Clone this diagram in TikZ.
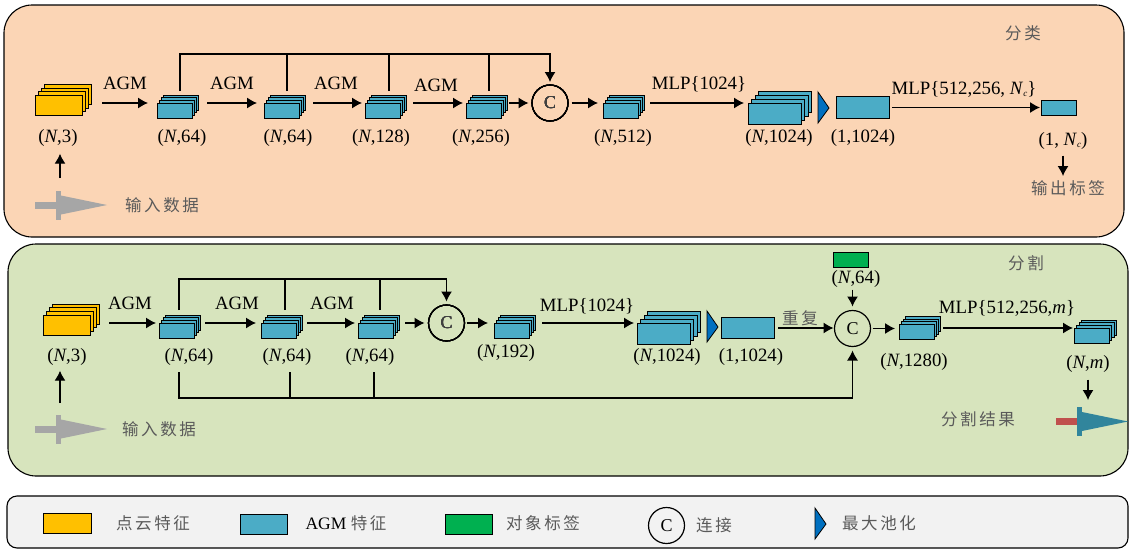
\documentclass[tikz,border=0pt]{standalone}
\usepackage{fontspec}
\usetikzlibrary{arrows.meta}
\setmainfont{Liberation Serif}
\newfontfamily\cjk[LetterSpace=16]{Noto Sans CJK SC}

\definecolor{peach}{HTML}{FBD5B5}
\definecolor{sage}{HTML}{D7E4BD}
\definecolor{pale}{HTML}{F2F2F2}
\definecolor{agmblue}{HTML}{4BACC6}
\definecolor{ptyellow}{HTML}{FFC000}
\definecolor{objgreen}{HTML}{00B050}
\definecolor{poolblue}{HTML}{0070C0}
\definecolor{softgray}{HTML}{A6A6A6}
\definecolor{teal}{HTML}{31859C}
\definecolor{brick}{HTML}{C0504D}
\definecolor{cjkgray}{HTML}{5A5A5A}

\tikzset{
	box/.style={draw=black, line width=1pt, inner sep=0pt, outer sep=0pt, anchor=north west},
	smallbox/.style={box, fill=agmblue, minimum width=35pt, minimum height=15pt},
	bigbox/.style={box, fill=agmblue, minimum width=53pt, minimum height=21pt},
	ptbox/.style={box, fill=ptyellow, minimum width=47pt, minimum height=20pt},
	panel/.style={draw=black, line width=1.1pt, inner sep=0pt, outer sep=0pt, anchor=north west},
	lbl/.style={inner sep=0pt, font=\fontsize{18.8}{20}\selectfont},
	zh/.style={inner sep=0pt, text=cjkgray, font=\cjk\fontsize{16.5}{18}\selectfont},
	joint/.style={circle, draw=black, line width=1.2pt, minimum size=36pt, inner sep=0pt, outer sep=0pt, font=\fontsize{18}{20}\selectfont, text=black!75},
	link/.style={line width=1.2pt},
	flow/.style={link, -{Latex[length=10pt,width=11pt]}},
	pool/.style={draw=black, line width=0.8pt, fill=poolblue}
}

% name, x, y, style, dx, dy
\newcommand{\layerstack}[6]{
	\foreach \i in {3,2,1}
		\node[#4] (#1-\i) at ({#2+\i*#5},{#3-\i*#6}) {};
	\node[#4] (#1) at (#2,#3) {};
}
% x, y
\newcommand{\maxpool}[2]{
	\draw[pool] (#1,#2) -- (#1+11,#2+16) -- (#1,#2+31) -- cycle;
}
% tail x, bar x, tip x, y, tail colour, head colour
\newcommand{\fatarrow}[6]{
	\fill[#5] (#1,#4-3.5) rectangle (#2,#4+3.5);
	\fill[#6] (#2,#4-14.5) rectangle (#2+5,#4+14.5);
	\fill[#6] (#2+5,#4-9.5) -- (#3,#4) -- (#2+5,#4+9.5) -- cycle;
}
\newcommand{\subc}{\textit{N}\raisebox{-2pt}{\fontsize{9}{10}\selectfont\textit{c}}}

\begin{document}
\begin{tikzpicture}[x=1pt,y=-1pt]
\useasboundingbox (0,0) rectangle (1135,549);

% Paneles
	\node[panel, fill=peach, rounded corners=28pt, minimum width=1120pt, minimum height=232pt] (panelA) at (4,5) {};
	\node[panel, fill=sage, rounded corners=28pt, minimum width=1120pt, minimum height=232pt] (panelB) at (8,244) {};
	\node[panel, fill=pale, rounded corners=10pt, minimum width=1121pt, minimum height=52pt] (panelC) at (7,496) {};

% Clasificacion
	\node[zh] (titleA) at (1023,33) {分类};
	\layerstack{yA}{35}{95}{ptbox}{3.3}{3.4}
	\foreach \n/\x in {a1/157, a2/264, a3/365, a4/466, a5/603}
		\layerstack{\n}{\x}{103}{smallbox}{2.3}{2.6}
	\layerstack{bigA}{748}{103}{bigbox}{3.5}{3.7}
	\node[joint] (cA) at (550,103) {C};
	\maxpool{818}{92}
	\node[box, fill=agmblue, minimum width=53pt, minimum height=22pt] (rA) at (836,96.5) {};
	\node[box, fill=agmblue, minimum width=35pt, minimum height=15pt] (oA) at (1041,100) {};

	\foreach \n/\x/\y/\t in {lyA/58/138/{(\textit{N},3)}, la1/182/138/{(\textit{N},64)}, la2/288/138/{(\textit{N},64)},
		la3/381/138/{(\textit{N},128)}, la4/481/138/{(\textit{N},256)}, la5/623/138/{(\textit{N},512)},
		lbA/779/138/{(\textit{N},1024)}, lrA/863/138/{(1,1024)},
		ag1/125/83/AGM, ag2/232/83/AGM, ag3/336/83/AGM, ag4/436/85/AGM,
		mA1/699/84/{MLP\{1024\}}, mA2/964/89/{MLP\{512,256,~\subc\}}}
		\node[lbl] (\n) at (\x,\y) {\t};
	\node[lbl] (loA) at (1063,141) {(1,~\subc)};

	\draw[flow, shorten <=20pt, shorten >=9pt] (yA.east |- a1.north west) -- (a1.north west);
	\foreach \a/\b/\p/\q in {a1/a2/15/7, a2/a3/14/3, a3/a4/13/3}
		\draw[flow, shorten <=\p pt, shorten >=\q pt] (\a.north east) -- (\b.north west);
	\draw[flow, shorten <=8pt, shorten >=3.5pt] (a4.north east) -- (cA.west);
	\draw[flow, shorten <=3.5pt, shorten >=5pt] (cA.east) -- (a5.north west);
	\draw[flow, yshift=-2pt, shorten <=12pt, shorten >=4pt] (a5.north east) -- (bigA.north west);
	\draw[flow, shorten <=3pt, shorten >=1pt] (rA.east) -- (oA.west);

	\foreach \n/\x in {dA1/180, dA2/287, dA3/389, dA4/489}
		\coordinate (\n) at (\x,91);
	\coordinate (topA) at (180,54);
	\draw[flow, shorten >=3pt] (dA1) -- (topA) -- (topA -| cA.north) -- (cA.north);
	\foreach \n in {dA2, dA3, dA4}
		\draw[link] (\n) -- (\n |- topA);

	\coordinate (inA) at (60,178);
	\draw[flow, shorten >=7pt] (inA) -- (inA |- lyA.south);
	\fatarrow{35}{56}{107}{205}{softgray}{softgray}
	\node[zh] (tinA) at (162,205) {输入数据};
	\draw[flow, shorten <=6pt, shorten >=0pt] (loA.south -| 1063,0) -- (1063,176);
	\node[zh] (toutA) at (1068,188) {输出标签};

% Segmentacion
	\node[zh] (titleB) at (1026,263) {分割};
	\layerstack{yB}{43}{315}{ptbox}{3.3}{3.6}
	\foreach \n/\x in {b1/159, b2/261, b3/358, b4/494}
		\layerstack{\n}{\x}{323}{smallbox}{2.3}{2.6}
	\layerstack{bigB}{637}{323}{bigbox}{3.6}{4}
	\node[joint] (cB) at (446.5,323) {C};
	\maxpool{707}{311}
	\node[box, fill=agmblue, minimum width=53pt, minimum height=21pt] (rB) at (721,317.5) {};
	\node[joint, text=black] (cC) at (852.5,328.5) {C};
	\node[box, fill=objgreen, minimum width=35pt, minimum height=15pt] (gB) at (833,252) {};
	\layerstack{c1}{899}{324}{smallbox}{2.3}{2.4}
	\layerstack{c2}{1074}{328}{smallbox}{2.6}{2.6}

	\foreach \n/\x/\y/\t in {lyB/67/357/{(\textit{N},3)}, lb1/189/357/{(\textit{N},64)}, lb2/287/357/{(\textit{N},64)},
		lb3/370/357/{(\textit{N},64)}, lb4/506/353/{(\textit{N},192)}, lbB/667/357/{(\textit{N},1024)},
		lrB/751/357/{(1,1024)}, lgB/856/279/{(\textit{N},64)}, lc1/914/362/{(\textit{N},1280)}, lc2/1088/364/{(\textit{N},\textit{m})},
		ah1/130/303/AGM, ah2/237/303/AGM, ah3/332/303/AGM,
		mB1/587/306/{MLP\{1024\}}, mB2/1007/308/{MLP\{512,256,\textit{m}\}}}
		\node[lbl] (\n) at (\x,\y) {\t};
	\node[zh] (trep) at (800,318) {重复};

	\draw[flow, shorten <=19pt, shorten >=3pt] (yB.east |- b1.north west) -- (b1.north west);
	\foreach \a/\b/\p/\q in {b1/b2/11/5, b2/b3/11/3}
		\draw[flow, shorten <=\p pt, shorten >=\q pt] (\a.north east) -- (\b.north west);
	\draw[flow, shorten <=12pt, shorten >=4pt] (b3.north east) -- (cB.west);
	\draw[flow, shorten <=2pt, shorten >=6pt] (cB.east) -- (b4.north west);
	\draw[flow, yshift=-4pt, shorten <=13pt, shorten >=3pt] (b4.north east) -- (bigB.north west);
	\draw[flow, shorten <=4pt, shorten >=1pt] (rB.east) -- (rB.east -| cC.west);
	\draw[flow, shorten <=2pt, shorten >=4pt] (cC.east) -- (cC.east -| c1.west);
	\draw[flow, shorten <=9pt, shorten >=1pt] (c1.east |- c2.north west) -- (c2.north west);
	\draw[flow, shorten <=2pt, shorten >=4pt] (cC.north |- lgB.south) -- (cC.north);

	\foreach \n/\x in {dB1/179, dB2/285, dB3/380}
		\coordinate (\n) at (\x,310);
	\coordinate (topB) at (179,279);
	\draw[flow, shorten >=3.5pt] (dB1) -- (topB) -- (topB -| cB.north) -- (cB.north);
	\foreach \n in {dB2, dB3}
		\draw[link] (\n) -- (\n |- topB);

	\foreach \n/\x in {eB1/179, eB2/290, eB3/374}
		\coordinate (\n) at (\x,372);
	\coordinate (botB) at (179,398);
	\draw[flow, shorten >=4pt] (eB1) -- (botB) -- (botB -| cC.south) -- (cC.south);
	\foreach \n in {eB2, eB3}
		\draw[link] (\n) -- (\n |- botB);

	\coordinate (inB) at (60,403);
	\draw[flow, shorten >=5pt] (inB) -- (inB |- lyB.south);
	\fatarrow{35}{56}{107}{429}{softgray}{softgray}
	\node[zh] (tinB) at (159,429) {输入数据};
	\draw[flow, shorten <=7pt] (lc2.south) -- (1088,400);
	\fatarrow{1056}{1077}{1128}{421.5}{brick}{teal}
	\node[zh] (toutB) at (978,419) {分割结果};

% Leyenda
	\node[box, fill=ptyellow, minimum width=48pt, minimum height=20pt] (kpt) at (43,513) {};
	\node[box, fill=agmblue, minimum width=47pt, minimum height=20pt] (kagm) at (240,514) {};
	\node[box, fill=objgreen, minimum width=47pt, minimum height=20pt] (kobj) at (445,514) {};
	\node[joint, text=black] (kc) at (666.5,525.5) {C};
	\maxpool{815}{508}
	\node[zh] (tpt) at (153,523) {点云特征};
	\node[lbl, text=black] (tagm) at (346,523) {\fontsize{17.5}{18}\selectfont AGM {\cjk\color{cjkgray}\fontsize{16.5}{18}\selectfont 特征}};
	\node[zh] (tobj) at (543,523) {对象标签};
	\node[zh] (tc) at (714,525) {连接};
	\node[zh] (tpool) at (879,523) {最大池化};
\end{tikzpicture}
\end{document}
